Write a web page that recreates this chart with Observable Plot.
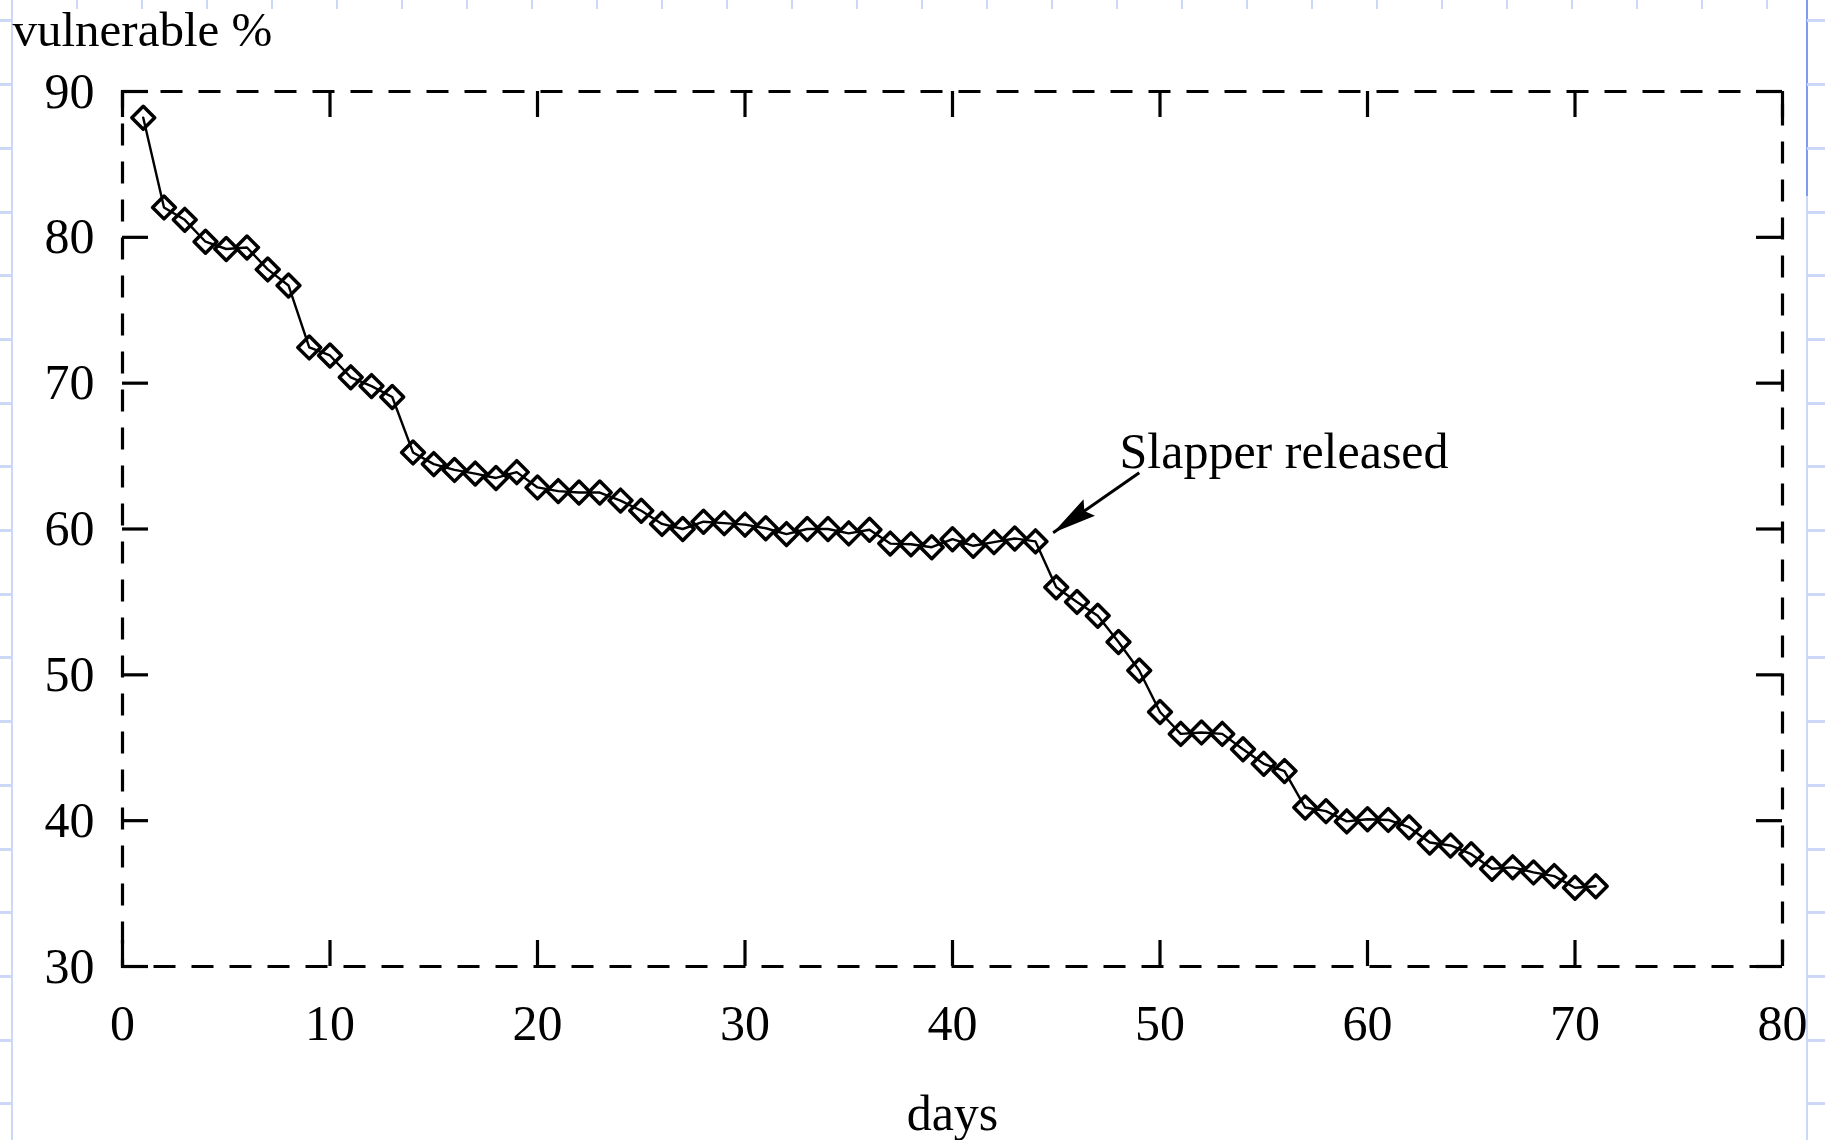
<!DOCTYPE html>
<html>
<head>
<meta charset="utf-8">
<script src="https://cdn.jsdelivr.net/npm/d3@7"></script>
<script src="https://cdn.jsdelivr.net/npm/@observablehq/plot@0.6"></script>
<style>
  html, body { margin: 0; padding: 0; background: #fff; }
  #wrap { position: relative; width: 1825px; height: 1140px; overflow: hidden; }
  .deco { position: absolute; }
  #chart { position: absolute; left: 0; top: 0; }
</style>
</head>
<body>
<div id="wrap">
  <div class="deco" style="left:11px;top:0;width:2px;height:1140px;background:#cdd8f8;"></div>
  <div class="deco" style="left:0;top:0;width:12px;height:1140px;background:repeating-linear-gradient(to bottom, transparent 0px, transparent 19.5px, #cdd8f8 19.5px, #cdd8f8 22.5px, transparent 22.5px, transparent 63.7px);"></div>
  <div class="deco" style="left:1806px;top:0;width:2px;height:1140px;background:#cdd8f8;"></div>
  <div class="deco" style="left:1806px;top:0;width:2px;height:196px;background:#7f9bee;"></div>
  <div class="deco" style="left:1807px;top:0;width:18px;height:1140px;background:repeating-linear-gradient(to bottom, transparent 0px, transparent 19.5px, #cdd8f8 19.5px, #cdd8f8 22.5px, transparent 22.5px, transparent 63.7px);"></div>
  <div class="deco" style="left:13px;top:0;width:1790px;height:9px;background:repeating-linear-gradient(to right, transparent 0px, transparent 63px, #cdd8f8 63px, #cdd8f8 65px);"></div>
  <div id="chart"></div>
</div>
<script>
// ---- data ----
const days = [1,2,3,4,5,6,7,8,9,10,11,12,13,14,15,16,17,18,19,20,
  21,22,23,24,25,26,27,28,29,30,31,32,33,34,35,36,37,38,39,40,
  41,42,43,44,45,46,47,48,49,50,51,52,53,54,55,56,57,58,59,60,
  61,62,63,64,65,66,67,68,69,70,71];
const vulnerable = [88.2,82.05,81.2,79.7,79.2,79.3,77.8,76.7,72.45,71.9,
  70.4,69.8,69.05,65.25,64.45,64.05,63.8,63.5,63.9,62.85,
  62.6,62.5,62.5,61.95,61.25,60.35,60.0,60.5,60.4,60.3,
  60.05,59.65,60.0,60.0,59.7,59.95,59.0,58.95,58.75,59.3,
  58.85,59.1,59.35,59.15,56.0,55.0,54.05,52.25,50.3,47.45,
  45.95,46.05,45.95,44.9,43.9,43.4,40.9,40.65,39.95,40.1,
  40.05,39.55,38.5,38.3,37.7,36.7,36.8,36.45,36.2,35.4,35.5];
const xTicks = [0,10,20,30,40,50,60,70,80];
const yTicks = [30,40,50,60,70,80,90];
const noteText = ["Slapper released"];
const noteX = [48.05];
const noteY = [64.15];
const arrowX1 = [49.0], arrowY1 = [63.85];
const arrowX2 = [44.85], arrowY2 = [59.75];

// ---- layout ----
const W = 1825, H = 1140;
const mL = 122, mR = 43, mT = 91, mB = 174;
const plotW = W - mL - mR, plotH = H - mT - mB;
const tickLen = 26;

const data = days.map((d, i) => ({day: d, pct: vulnerable[i]}));
const note = noteText.map((t, i) => ({text: t, x: noteX[i], y: noteY[i]}));
const arrow = arrowX1.map((x, i) => ({x1: x, y1: arrowY1[i], x2: arrowX2[i], y2: arrowY2[i]}));

// arrowhead orientation in screen space
const kx = plotW / 80, ky = plotH / 60;
const a0 = arrow[0];
const sdx = (a0.x2 - a0.x1) * kx, sdy = -(a0.y2 - a0.y1) * ky;
const ang = Math.atan2(sdx, -sdy);
const ca = Math.cos(ang), sa = Math.sin(ang);
const headPts = [[0, 0], [-10, 44], [0, 38], [10, 44]].map(([x, y]) => [x * ca - y * sa, x * sa + y * ca]);
const headSymbol = {
  draw(context) {
    context.moveTo(headPts[0][0], headPts[0][1]);
    for (let i = 1; i < headPts.length; i++) context.lineTo(headPts[i][0], headPts[i][1]);
    context.closePath();
  }
};

const chart = Plot.plot({
  width: W,
  height: H,
  marginLeft: mL, marginRight: mR, marginTop: mT, marginBottom: mB,
  style: {fontFamily: "'Liberation Serif', 'Times New Roman', serif", fontSize: "50px", background: "transparent", color: "black"},
  x: {domain: [0, 80], ticks: xTicks, tickSize: 0, tickPadding: 38, tickFormat: d => String(d), label: null},
  y: {domain: [30, 90], ticks: yTicks, tickSize: 0, tickPadding: 28, tickFormat: d => String(d), label: null},
  marks: [
    Plot.frame({stroke: "black", strokeWidth: 3.2, strokeDasharray: "22,16"}),
    Plot.ruleX(xTicks, {x: d => d, insetTop: plotH - tickLen, stroke: "black", strokeWidth: 3.2}),
    Plot.ruleX(xTicks, {x: d => d, insetBottom: plotH - tickLen, stroke: "black", strokeWidth: 3.2}),
    Plot.ruleY(yTicks, {y: d => d, insetRight: plotW - tickLen, stroke: "black", strokeWidth: 3.2}),
    Plot.ruleY(yTicks, {y: d => d, insetLeft: plotW - tickLen, stroke: "black", strokeWidth: 3.2}),
    Plot.line(data, {x: "day", y: "pct", stroke: "black", strokeWidth: 2.4}),
    Plot.dot(data, {x: "day", y: "pct", symbol: "diamond2", r: 10.3, stroke: "black", strokeWidth: 3.5, fill: "none", strokeLinejoin: "round"}),
    Plot.link(arrow, {x1: "x1", y1: "y1", x2: "x2", y2: "y2", stroke: "black", strokeWidth: 3}),
    Plot.dot(arrow, {x: "x2", y: "y2", symbol: headSymbol, r: 5, fill: "black", stroke: "none"}),
    Plot.text(note, {x: "x", y: "y", text: "text", textAnchor: "start", lineAnchor: "bottom", fontSize: 50, fill: "black"}),
    Plot.text(["days"], {text: d => d, frameAnchor: "bottom", dy: 163, lineAnchor: "bottom", fontSize: 50, fill: "black"}),
    Plot.text(["vulnerable %"], {text: d => d, frameAnchor: "top-left", dx: -110, dy: -46, textAnchor: "start", lineAnchor: "bottom", fontSize: 49, fill: "black"})
  ]
});
document.getElementById("chart").appendChild(chart);
</script>
</body>
</html>
